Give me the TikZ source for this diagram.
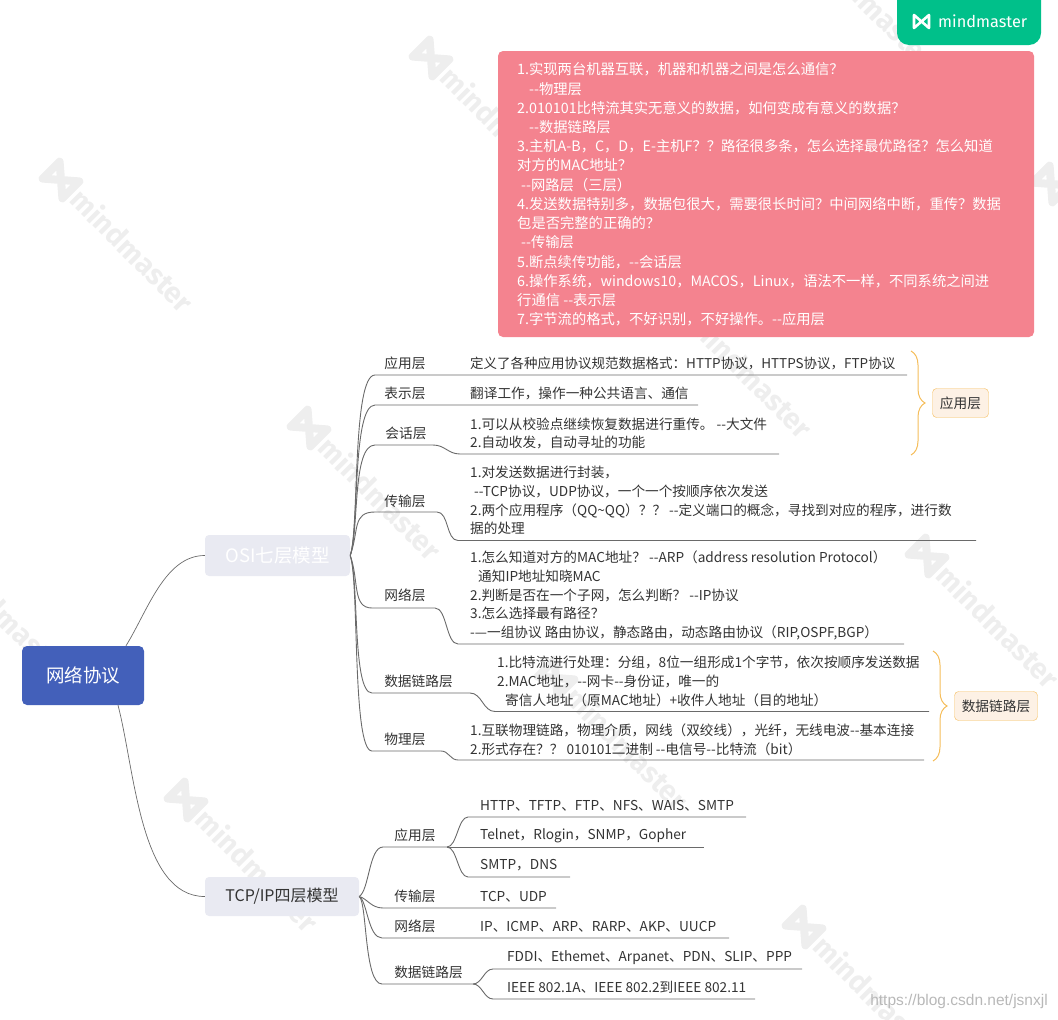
\documentclass[tikz,border=0pt]{standalone}
\usepackage{fontspec}
\setmainfont{Noto Sans CJK SC}[Ligatures=TeXOff]
\newfontfamily\wmfont{Fira Sans}
\newfontfamily\urlfont{Liberation Sans}
\usetikzlibrary{decorations.pathreplacing}
\definecolor{rootblue}{HTML}{4360BA}
\definecolor{topicgray}{HTML}{E9EAF2}
\definecolor{notepink}{HTML}{F4838F}
\definecolor{logogreen}{HTML}{00C08A}
\definecolor{sumorange}{HTML}{F5BD5A}
\definecolor{sumfill}{HTML}{FDF1E5}
\definecolor{linegray}{HTML}{6A6A6A}
\definecolor{wmgray}{HTML}{EEEEEE}
\definecolor{txtgray}{HTML}{333333}
\tikzset{
    %Define style for boxes
    rootbox/.style={
           rectangle,
           rounded corners=5pt,
           fill=rootblue,
           text=white,
           minimum width=122pt,
           minimum height=59pt,
           font=\fontsize{18.5}{22}\selectfont,
           text centered},
    topicbox/.style={
           rectangle,
           rounded corners=4pt,
           fill=topicgray,
           font=\fontsize{16}{20}\selectfont,
           text centered},
    notebox/.style={
           anchor=west,
           inner sep=0pt,
           text=white,
           align=left,
           font=\fontsize{14.3}{19.23}\selectfont},
    sumbox/.style={
           rectangle,
           rounded corners=4pt,
           draw=sumorange,
           fill=sumfill,
           text=txtgray,
           inner sep=0pt,
           minimum height=29pt,
           font=\fontsize{13.7}{16}\selectfont},
    %Define style for texts
    layer/.style={
           inner sep=0pt,
           text=txtgray,
           font=\fontsize{13.7}{16}\selectfont},
    info/.style={
           anchor=west,
           inner sep=0pt,
           text=txtgray,
           align=left,
           font=\fontsize{13.65}{18.7}\selectfont},
    % Define connector styles
    rootline/.style={draw=linegray, line width=.7pt},
    branch/.style={draw=linegray, line width=.9pt},
    sumbrace/.style={draw=sumorange, line width=1pt,
           decorate, decoration={brace, amplitude=14pt}}
}
\begin{document}
\begin{tikzpicture}[x=1pt,y=-1pt]
\clip (0,0) rectangle (1058,1020);
 %watermarks
\foreach \wx/\wy in {42/160,412/38,783/-84,290/408,661/286,1032/164,-81/530,167/780,537/658,908/536,785/907}{
  \draw[wmgray, line width=8pt, line join=round, rotate around={-45:(\wx+19,\wy+20)}]
    (\wx+5,\wy+8) -- (\wx+5,\wy+32) -- (\wx+33,\wy+8) -- (\wx+33,\wy+32) -- cycle;
  \node[rotate=-45, text=wmgray, inner sep=0pt, font=\wmfont\bfseries\fontsize{29}{30}\selectfont]
    at (\wx+91,\wy+90) {mindmaster};
}
 %logo
\fill[logogreen, rounded corners=12pt] (897,-20) rectangle (1041,45);
\draw[white, line width=2.6pt, line join=round] (914,15) -- (914,28) -- (929,15) -- (929,28) -- cycle;
\node[anchor=west, inner sep=0pt, text=white, font=\wmfont\fontsize{16.3}{20}\selectfont] at (938,21) {mindmaster};
 %nodes
\node[rootbox](root) at (83,675.5){网络协议};
\node[topicbox, text=white, font=\fontsize{18.5}{22}\selectfont, minimum width=145pt, minimum height=41pt](osi) at (277.5,555.5){OSI七层模型};
\node[topicbox, text=txtgray, minimum width=154pt, minimum height=39pt](tcp) at (282,896.5){TCP/IP四层模型};
\fill[notepink, rounded corners=5pt] (498,51) rectangle (1034,337);
\node[notebox](note) at (517,194.5){1.实现两台机器互联，机器和机器之间是怎么通信？\\
\hspace*{12pt}--物理层\\
2.010101比特流其实无意义的数据，如何变成有意义的数据？\\
\hspace*{12pt}--数据链路层\\
3.主机A-B，C，D，E-主机F？？路径很多条，怎么选择最优路径？怎么知道\\
对方的MAC地址？\\
\hspace*{4pt}--网路层（三层）\\
4.发送数据特别多，数据包很大，需要很长时间？中间网络中断，重传？数据\\
包是否完整的正确的？\\
\hspace*{4pt}--传输层\\
5.断点续传功能，--会话层\\
6.操作系统，windows10，MACOS，Linux，语法不一样，不同系统之间进\\
行通信 --表示层\\
7.字节流的格式，不好识别，不好操作。--应用层};
 %osi layers
\node[layer](os1) at (405,363.5){应用层};
\node[layer](os2) at (405,393.5){表示层};
\node[layer](os3) at (406,433.5){会话层};
\node[layer](os4) at (405,501.5){传输层};
\node[layer](os5) at (405,595.5){网络层};
\node[layer](os6) at (418.5,681.5){数据链路层};
\node[layer](os7) at (405,739.5){物理层};
\node[info, font=\fontsize{13.5}{18.7}\selectfont](in1) at (470,363.5){定义了各种应用协议规范数据格式：HTTP协议，HTTPS协议，FTP协议};
\node[info](in2) at (470,393.5){翻译工作，操作一种公共语言、通信};
\node[info](in3) at (470,433.5){1.可以从校验点继续恢复数据进行重传。 --大文件\\2.自动收发，自动寻址的功能};
\node[info](in4) at (470,500.5){1.对发送数据进行封装，\\
\hspace*{4pt}--TCP协议，UDP协议，一个一个按顺序依次发送\\
2.两个应用程序（QQ\textasciitilde QQ）？？ --定义端口的概念，寻找到对应的程序，进行数\\
据的处理};
\node[info](in5) at (470,595.5){1.怎么知道对方的MAC地址？ --ARP（address resolution Protocol）\\
\hspace*{8pt}通知IP地址知晓MAC\\
2.判断是否在一个子网，怎么判断？ --IP协议\\
3.怎么选择最有路径？\\
-—一组协议 路由协议，静态路由，动态路由协议（RIP,OSPF,BGP）};
\node[info](in6) at (497,681.5){1.比特流进行处理：分组，8位一组形成1个字节，依次按顺序发送数据\\
2.MAC地址，--网卡--身份证，唯一的\\
\hspace*{8pt}寄信人地址（原MAC地址）+收件人地址（目的地址）};
\node[info](in7) at (470,739.5){1.互联物理链路，物理介质，网线（双绞线），光纤，无线电波--基本连接\\
2.形式存在？？ 010101二进制 --电信号--比特流（bit）};
 %tcp layers
\node[layer](tc1) at (415,835.5){应用层};
\node[layer](tc2) at (415,896.5){传输层};
\node[layer](tc3) at (415,926.5){网络层};
\node[layer](tc4) at (428.5,972.5){数据链路层};
\node[info](ti1) at (480,805.5){HTTP、TFTP、FTP、NFS、WAIS、SMTP};
\node[info](ti2) at (480,835.5){Telnet，Rlogin，SNMP，Gopher};
\node[info](ti3) at (480,865.5){SMTP，DNS};
\node[info](ti4) at (480,896.5){TCP、UDP};
\node[info](ti5) at (480,926.5){IP、ICMP、ARP、RARP、AKP、UUCP};
\node[info](ti6) at (507,957.5){FDDI、Ethemet、Arpanet、PDN、SLIP、PPP};
\node[info](ti7) at (507,987.5){IEEE 802.1A、IEEE 802.2到IEEE 802.11};
 %summaries
\node[sumbox, minimum width=56pt](sum1) at (960.5,403){应用层};
\node[sumbox, minimum width=83pt](sum2) at (996,706){数据链路层};
\node[inner sep=0pt, text=black!28, font=\urlfont\fontsize{15.5}{18}\selectfont](url) at (959,1001){https://blog.csdn.net/jsnxjl};
 %corner points of the lines
\coordinate (a1) at (375,375); \coordinate (a2) at (907,375);
\coordinate (b1) at (375,405); \coordinate (b2) at (698,405);
\coordinate (c1) at (375,445); \coordinate (c2) at (433,445); \coordinate (c3) at (460,454); \coordinate (c4) at (779,454);
\coordinate (d1) at (375,512); \coordinate (d2) at (437,512); \coordinate (d3) at (458,540.5); \coordinate (d4) at (976,540.5);
\coordinate (e1) at (372,608); \coordinate (e2) at (435,608); \coordinate (e3) at (458,644); \coordinate (e4) at (904,644);
\coordinate (f1) at (372,693); \coordinate (f2) at (470,693); \coordinate (f3) at (495,711.5); \coordinate (f4) at (929,711.5);
\coordinate (g1) at (372,751); \coordinate (g2) at (441,751); \coordinate (g3) at (458,760); \coordinate (g4) at (924,760);
\coordinate (h1) at (383,847); \coordinate (h2) at (447,847); \coordinate (h3) at (468,817); \coordinate (h4) at (746,817);
\coordinate (h5) at (703.5,847); \coordinate (h6) at (468,877); \coordinate (h7) at (570,877);
\coordinate (i1) at (383,908); \coordinate (i2) at (556,908);
\coordinate (j1) at (382,938); \coordinate (j2) at (729,938);
\coordinate (k1) at (382,984); \coordinate (k2) at (473,984); \coordinate (k3) at (493,969); \coordinate (k4) at (802,969);
\coordinate (k5) at (493,999); \coordinate (k6) at (755,999);
\coordinate (s1) at (911,351); \coordinate (s2) at (911,455);
\coordinate (s3) at (933,651); \coordinate (s4) at (933,761);
 %edges
\draw[rootline] ([xshift=43pt]root.north) .. controls (148,610) and (165,555.5) .. (osi.west);
\draw[rootline] ([xshift=35pt]root.south) .. controls (135,770) and (140,896.5) .. (tcp.west);
\draw[branch] (osi.east) .. controls +(9,-25) and +(-23,0) .. (a1) -- (a2);
\draw[branch] (osi.east) .. controls +(9,-25) and +(-23,0) .. (b1) -- (b2);
\draw[branch] (osi.east) .. controls +(9,-25) and +(-23,0) .. (c1) -- (c2) .. controls +(12,0) and +(-12,0) .. (c3) -- (c4);
\draw[branch] (osi.east) .. controls +(9,-25) and +(-23,0) .. (d1) -- (d2) .. controls +(12,0) and +(-12,0) .. (d3) -- (d4);
\draw[branch] (osi.east) .. controls +(9,25) and +(-20,0) .. (e1) -- (e2) .. controls +(12,0) and +(-12,0) .. (e3) -- (e4);
\draw[branch] (osi.east) .. controls +(9,25) and +(-20,0) .. (f1) -- (f2) .. controls +(12,0) and +(-12,0) .. (f3) -- (f4);
\draw[branch] (osi.east) .. controls +(9,25) and +(-20,0) .. (g1) -- (g2) .. controls +(8,0) and +(-8,0) .. (g3) -- (g4);
\draw[branch] (tcp.east) .. controls +(10,-6) and +(-14,0) .. (h1) -- (h2) .. controls +(10,0) and +(-10,0) .. (h3) -- (h4);
\draw[branch] (h2) -- (h5);
\draw[branch] (h2) .. controls +(10,0) and +(-10,0) .. (h6) -- (h7);
\draw[branch] (tcp.east) .. controls +(8,2) and +(-12,0) .. (i1) -- (i2);
\draw[branch] (tcp.east) .. controls +(8,4) and +(-14,0) .. (j1) -- (j2);
\draw[branch] (tcp.east) .. controls +(8,6) and +(-18,0) .. (k1) -- (k2) .. controls +(9,0) and +(-9,0) .. (k3) -- (k4);
\draw[branch] (k2) .. controls +(9,0) and +(-9,0) .. (k5) -- (k6);
\draw[sumbrace] (s1) -- (s2);
\draw[sumbrace] (s3) -- (s4);
\end{tikzpicture}
\end{document}
